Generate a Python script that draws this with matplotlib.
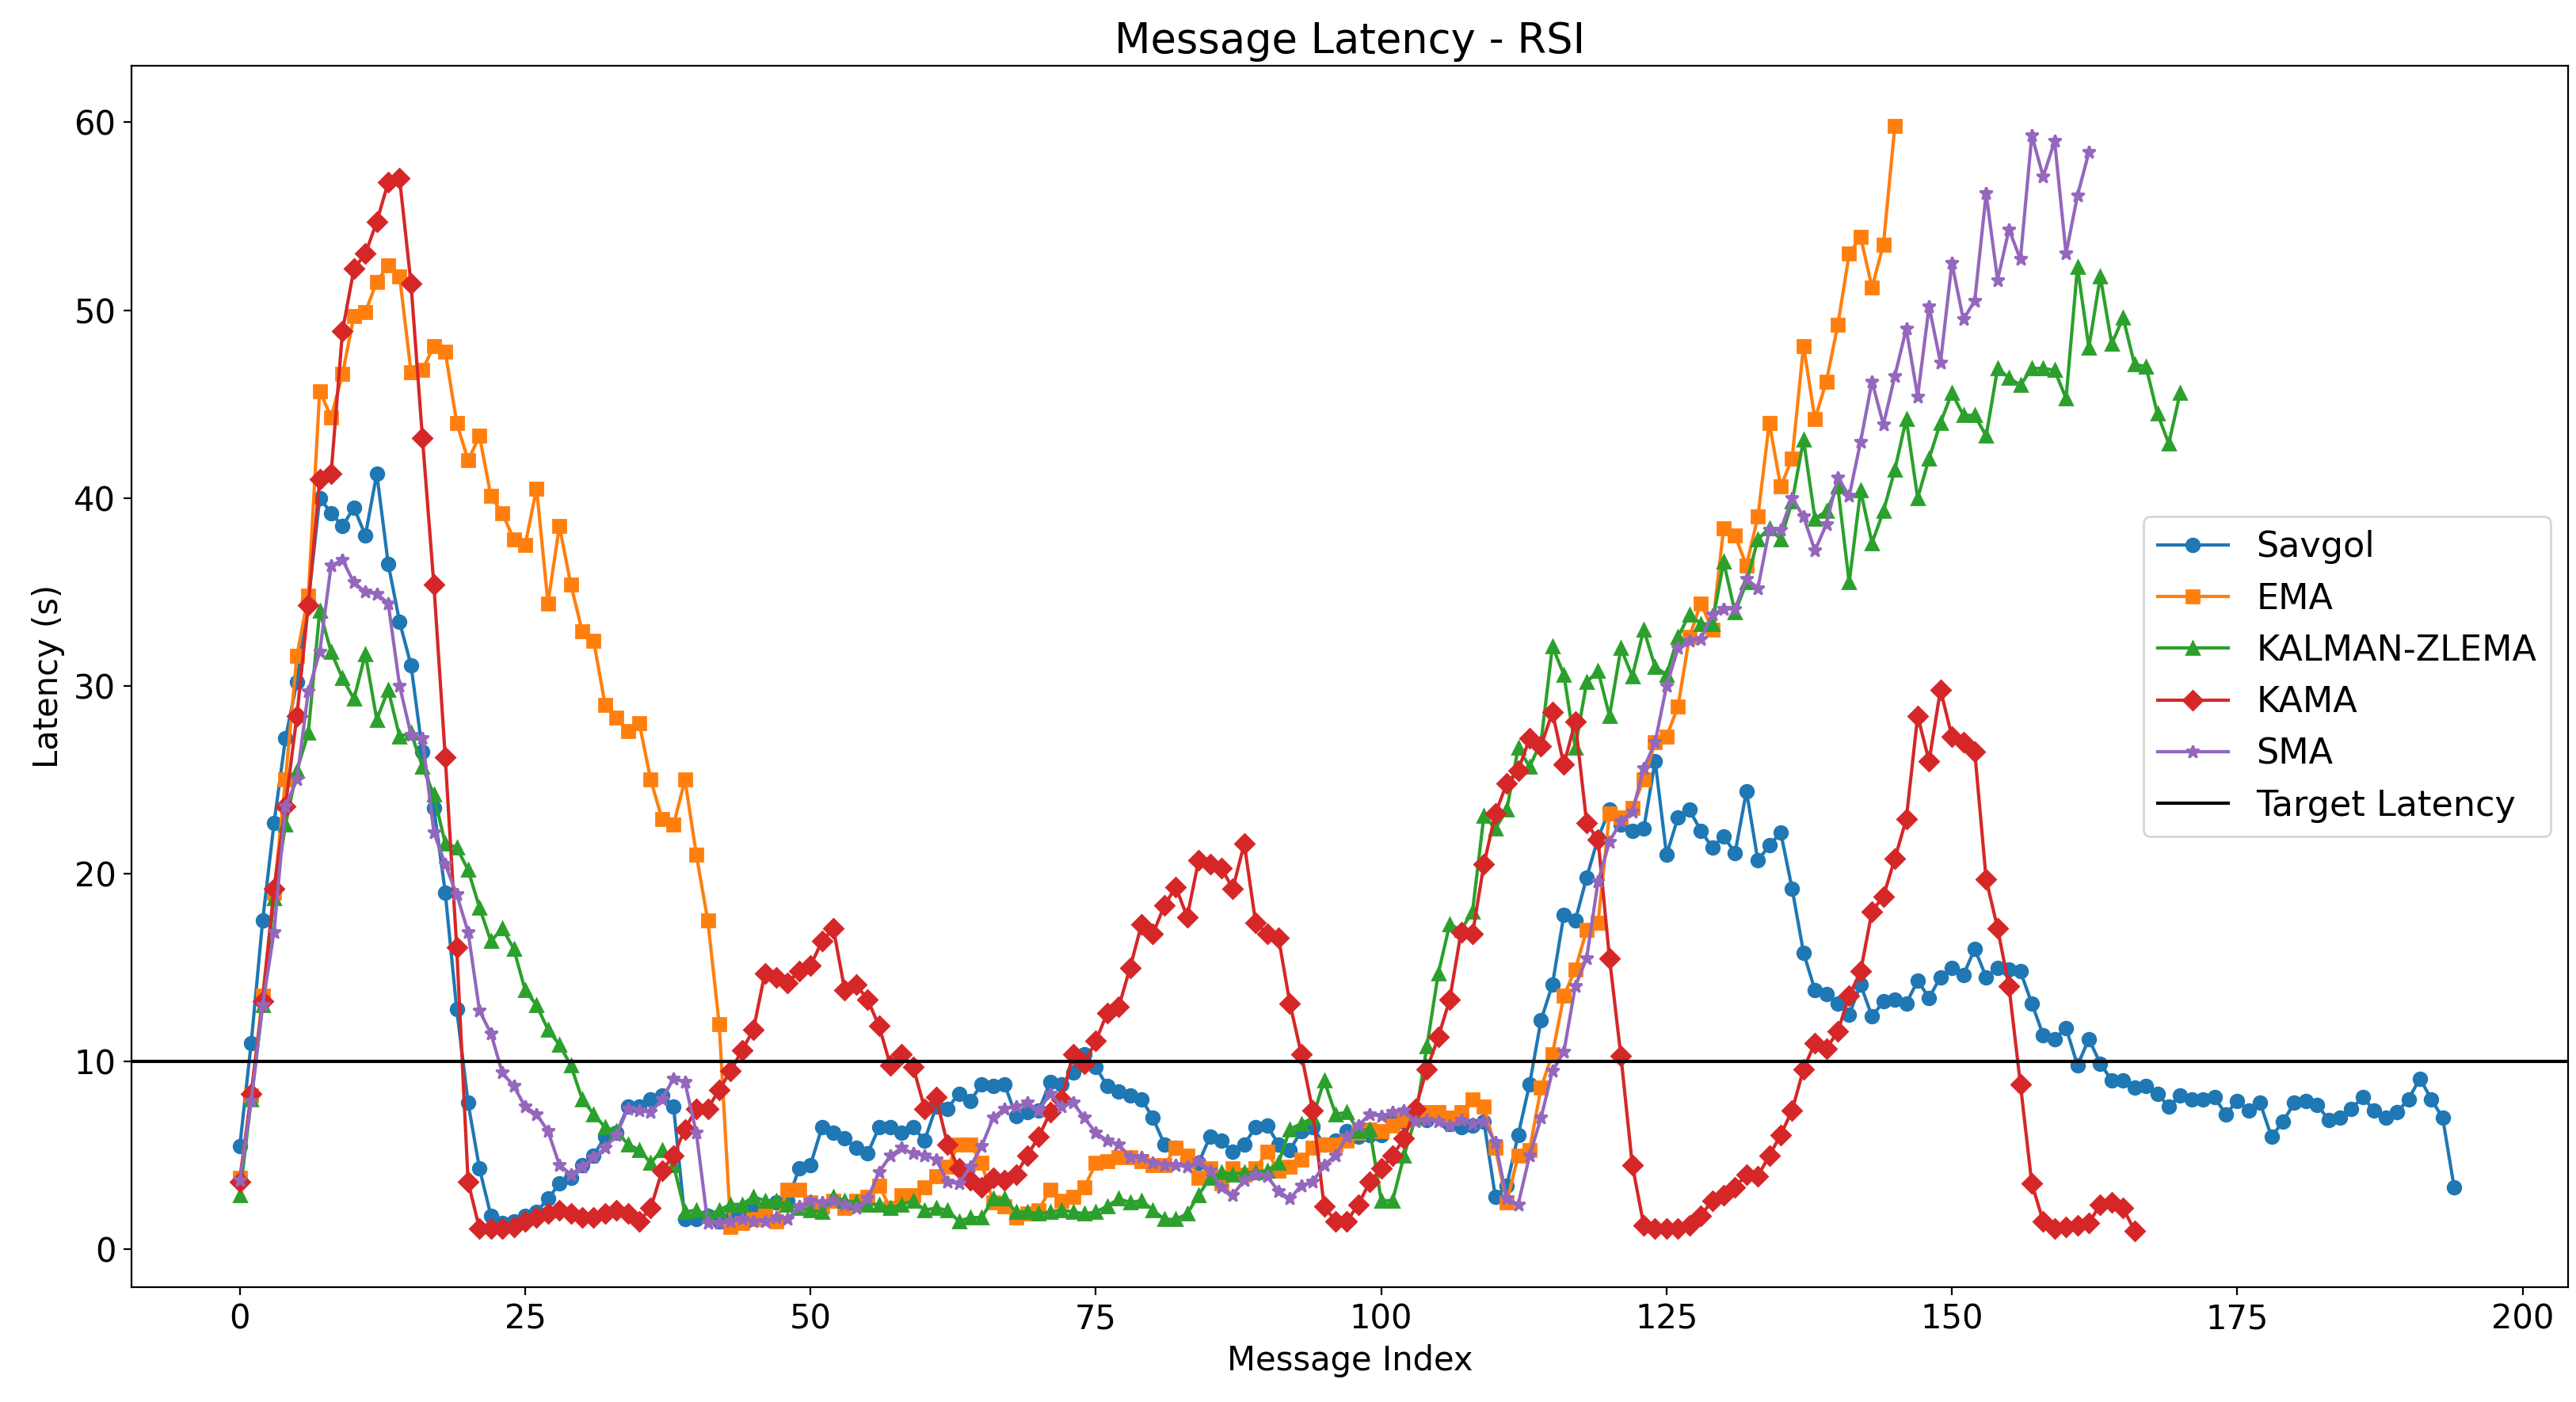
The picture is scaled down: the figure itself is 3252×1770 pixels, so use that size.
import matplotlib
matplotlib.use("Agg")
import matplotlib.pyplot as plt

savgol = [5.5,11,17.5,22.7,27.2,30.2,34.5,40,39.2,38.5,39.5,38,41.3,36.5,33.4,31.1,26.5,23.5,19,12.8,
7.8,4.3,1.8,1.4,1.5,1.8,2,2.7,3.5,3.8,4.5,5,6,6.2,7.6,7.6,8,8.2,7.6,1.6,
1.6,1.8,1.5,1.6,2.1,2.2,2.2,2.5,2.6,4.3,4.5,6.5,6.2,5.9,5.4,5.1,6.5,6.5,6.2,6.5,
5.8,7.6,7.5,8.3,7.9,8.8,8.7,8.8,7.1,7.3,7.4,8.9,8.8,9.4,10.4,9.7,8.7,8.4,8.2,8,
7,5.6,5.4,4.8,4.6,6,5.8,5.2,5.6,6.5,6.6,5.6,5.3,6.3,6.5,5.6,5.8,6.3,6.0,6.1,
6.1,6.9,6.8,7,6.9,7.2,6.7,6.5,6.6,6.8,2.8,3.4,6.1,8.8,12.2,14.1,17.8,17.5,19.8,21.9,
23.4,22.6,22.3,22.4,26,21,23,23.4,22.3,21.4,22,21.1,24.4,20.7,21.5,22.2,19.2,15.8,13.8,13.6,
13.1,12.5,14.1,12.4,13.2,13.3,13.1,14.3,13.4,14.5,15,14.6,16,14.5,15,14.9,14.8,13.1,11.4,11.2,
11.8,9.8,11.2,9.9,9,9,8.6,8.7,8.3,7.6,8.2,8,8,8.1,7.2,7.9,7.4,7.8,6,6.8,
7.8,7.9,7.7,6.9,7,7.5,8.1,7.4,7,7.3,8,9.1,8,7,3.3]

ema = [3.8,8.2,13.5,19,25,31.6,34.8,45.7,44.3,46.6,49.7,49.9,51.5,52.4,51.8,46.7,46.8,48.1,47.8,44,
42,43.3,40.1,39.2,37.8,37.5,40.5,34.4,38.5,35.4,32.9,32.4,29,28.3,27.6,28,25,22.9,22.6,25,
21,17.5,12,1.2,1.4,1.6,2,1.5,3.2,3.2,2.5,2.3,2.6,2.2,2.6,2.8,3.4,2.2,2.9,2.9,
3.3,3.9,4.4,5.6,5.6,4.6,2.5,2.3,1.7,1.9,2.1,3.2,2.6,2.8,3.3,4.6,4.7,4.9,4.9,4.7,
4.5,4.5,5.4,5,3.8,4.3,3.5,4.3,4,4.3,5.2,4.2,4.4,4.8,5.4,5.6,5.6,5.8,6.2,6.4,
6.3,6.6,6.9,7.2,7.3,7.3,7.0,7.3,8,7.6,5.4,2.5,5,5.3,8.6,10.4,13.5,14.9,17,17.4,
23.2,23,23.5,25,27,27.3,28.9,32.6,34.4,33,38.4,38,36.4,39,44,40.6,42.1,48.1,44.2,46.2,
49.2,53,53.9,51.2,53.5,59.8]

kalman = [2.9,8,13,18.7,22.6,25.5,27.5,34,31.8,30.4,29.3,31.7,28.2,29.8,27.3,27.5,25.7,24.2,21.6,21.4,
20.2,18.2,16.4,17.1,16,13.8,13,11.7,10.9,9.8,8,7.2,6.5,6.3,5.6,5.3,4.6,5.3,4.5,2,
2.1,1.8,2.1,2.4,2.4,2.8,2.6,2.6,2.4,2.2,2.1,2,2.8,2.6,2.5,2.4,2.4,2.2,2.4,2.6,
2.1,2.2,2.1,1.5,1.7,1.7,2.7,2.7,2,2,1.9,2,2.1,2.0,1.9,2.0,2.3,2.7,2.5,2.6,
2.1,1.6,1.6,1.9,2.9,3.8,4.1,4.0,4.1,4.1,4.2,4.6,6.4,6.7,7,9,7.2,7.3,6.3,6.4,
2.6,2.6,5,7,10.8,14.7,17.3,17,18,23.1,22.4,23.4,26.7,25.7,27,32.1,30.6,26.7,30.2,30.8,
28.4,32,30.5,33,31,30.6,32.6,33.8,33.3,33.3,36.6,33.9,35.5,37.8,38.4,37.8,39.8,43.1,38.9,39.3,
40.6,35.5,40.4,37.6,39.3,41.5,44.2,40,42.1,44,45.6,44.4,44.4,43.3,46.9,46.4,46,46.9,46.9,46.8,
45.3,52.3,48,51.8,48.2,49.6,47.1,47,44.5,42.9,45.6]

kama = [3.6,8.3,13.2,19.2,23.6,28.4,34.3,41,41.3,48.9,52.2,53,54.7,56.8,57,51.4,43.2,35.4,26.2,16.1,
3.6,1.1,1.1,1.1,1.2,1.5,1.7,1.9,2.1,1.9,1.7,1.7,1.9,2.1,1.9,1.5,2.2,4.2,5,6.4,
7.5,7.5,8.5,9.5,10.6,11.7,14.7,14.5,14.2,14.8,15.1,16.4,17.1,13.8,14.1,13.3,11.9,9.8,10.4,9.7,
7.5,8.1,5.6,4.3,3.7,3.3,3.8,3.7,4.0,5.0,6.0,7.3,8.0,10.4,9.9,11.1,12.6,12.9,15,17.3,
16.8,18.3,19.3,17.7,20.7,20.5,20.3,19.2,21.6,17.4,16.8,16.6,13.1,10.4,7.4,2.3,1.5,1.5,2.4,3.6,
4.3,5,5.9,7.5,9.6,11.3,13.3,16.9,16.8,20.5,23.2,24.8,25.5,27.2,26.8,28.6,25.8,28.1,22.7,21.8,
15.5,10.3,4.5,1.3,1.1,1.1,1.1,1.3,1.8,2.6,2.9,3.3,4,3.9,5,6.1,7.4,9.6,11,10.7,
11.6,13.5,14.8,18,18.8,20.8,22.9,28.4,26,29.8,27.3,27,26.5,19.7,17.1,14.0,8.8,3.5,1.5,1.1,
1.2,1.3,1.4,2.4,2.5,2.2,1.0]

sma = [3.7,7.9,13,16.9,23.6,25,29.7,31.8,36.4,36.7,35.5,35,34.9,34.4,30,27.4,27.2,22.2,20.5,18.9,
16.9,12.7,11.5,9.4,8.7,7.6,7.2,6.3,4.5,4.0,4.4,4.9,5.4,6.1,7.5,7.4,7.3,8.0,9.1,8.9,
6.2,1.4,1.4,1.5,1.6,1.5,1.5,1.7,1.6,2.3,2.6,2.5,2.6,2.4,2.2,2.7,4.1,5.0,5.4,5.1,
5.0,4.8,3.6,3.5,4.4,5.5,7.0,7.5,7.6,7.8,7.4,8.3,7.6,7.8,7.0,6.2,5.8,5.6,4.9,4.9,
4.6,4.5,4.5,4.4,4.7,4.2,3.3,2.9,3.7,4.0,3.9,3.1,2.7,3.4,3.6,4.5,5.0,6.0,6.6,7.2,
7.1,7.3,7.4,6.8,6.9,6.8,6.6,6.9,6.7,6.8,5.7,2.7,2.4,5,7,9.5,10.5,14,15.5,19.6,
21.7,22.8,23.3,25.6,27,30,32,32.4,32.5,33.8,34.1,34.1,35.7,35.2,38.3,38.3,40,39,37.2,38.6,
41.1,40.1,43,46.2,43.9,46.5,49,45.4,50.2,47.2,52.5,49.5,50.5,56.2,51.6,54.3,52.7,59.3,57.1,59,
53,56.1,58.4]

target = 10
series = [("Savgol", savgol, "o", "#1f77b4"), ("EMA", ema, "s", "#ff7f0e"),
          ("KALMAN-ZLEMA", kalman, "^", "#2ca02c"), ("KAMA", kama, "D", "#d62728"),
          ("SMA", sma, "*", "#9467bd")]

fig = plt.figure(figsize=(16.26, 8.85), dpi=200)
ax = fig.add_axes([0.051, 0.082, 0.946, 0.871])
for name, vals, m, c in series:
    ax.plot(range(len(vals)), vals, marker=m, color=c, label=name, markersize=6, linewidth=1.5)
ax.axhline(target, color="black", linewidth=1.5, label="Target Latency")
ax.set_xlim(-9.5, 204)
ax.set_ylim(-2, 63)
ax.set_xticks([0, 25, 50, 75, 100, 125, 150, 175, 200])
ax.tick_params(labelsize=15)
ax.set_xlabel("Message Index", fontsize=15)
ax.set_ylabel("Latency (s)", fontsize=15)
ax.set_title("Message Latency - RSI", fontsize=19)
ax.legend(loc="center right", fontsize=16)
fig.savefig("out.png", dpi=200)
